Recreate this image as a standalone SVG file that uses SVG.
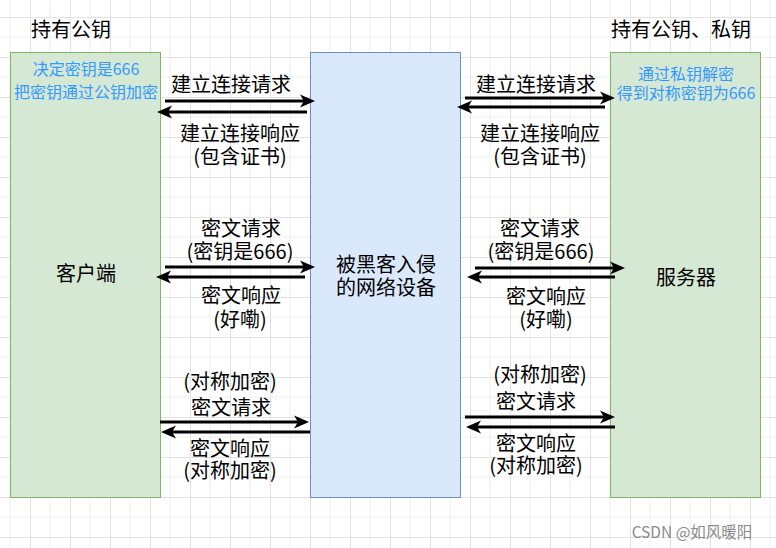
<svg xmlns="http://www.w3.org/2000/svg" width="776" height="548" viewBox="0 0 776 548">
<style>
text{font-family:"Noto Sans CJK SC","Liberation Sans",sans-serif;dominant-baseline:central;text-anchor:middle;fill:#000}
.t{font-size:20px}
.h{font-size:20px}
.b{font-size:16px;fill:#3399ff}
.box{stroke-width:1}
.g{fill:#d5e8d4;stroke:#82b366}
.bl{fill:#dae8fc;stroke:#6c8ebf}
.a{stroke:#000;stroke-width:3;fill:none;marker-end:url(#ah)}
</style>
<defs>
<pattern id="grid" x="30" y="17" width="40" height="40" patternUnits="userSpaceOnUse">
<path d="M20,0V40M0,20H40" stroke="#efefef" stroke-width="1" fill="none"/>
<path d="M0.5,0V40M0,0.5H40" stroke="#e2e2e2" stroke-width="1" fill="none"/>
</pattern>
<marker id="ah" viewBox="0 0 15 14" refX="7" refY="7" markerWidth="15" markerHeight="14" markerUnits="userSpaceOnUse" orient="auto">
<path d="M0,0.5 L15,7 L0,13.5 L4,7 Z" fill="#000"/>
</marker>
</defs>
<rect width="776" height="548" fill="#fff"/>
<rect width="776" height="548" fill="url(#grid)"/>

<g id="client">
<rect class="box g" x="10.5" y="52.5" width="150" height="445"/>
<text class="b" x="86" y="68">决定密钥是666</text>
<text class="b" x="86" y="91">把密钥通过公钥加密</text>
<text class="t" x="86" y="272">客户端</text>
</g>
<g id="hacked-device">
<rect class="box bl" x="310.5" y="52.5" width="150" height="445"/>
<text class="t" x="386" y="263">被黑客入侵</text>
<text class="t" x="386" y="286">的网络设备</text>
</g>
<g id="server">
<rect class="box g" x="610.5" y="52.5" width="150" height="445"/>
<text class="b" x="686" y="73">通过私钥解密</text>
<text class="b" x="686" y="92">得到对称密钥为666</text>
<text class="t" x="686" y="276">服务器</text>
</g>
<g id="titles">
<text class="h" x="71" y="28">持有公钥</text>
<text class="h" x="681" y="28">持有公钥、私钥</text>
</g>

<g id="connectors">
<line class="a" x1="165" y1="101" x2="307" y2="101"/>
<line class="a" x1="307" y1="112" x2="165" y2="112"/>
<line class="a" x1="465" y1="98" x2="607" y2="98"/>
<line class="a" x1="605" y1="107" x2="465" y2="107"/>
<line class="a" x1="165" y1="267" x2="307" y2="267"/>
<line class="a" x1="305" y1="277" x2="164" y2="277"/>
<line class="a" x1="475" y1="268" x2="617" y2="268"/>
<line class="a" x1="615" y1="277" x2="475" y2="277"/>
<line class="a" x1="160" y1="422" x2="301" y2="422"/>
<line class="a" x1="310" y1="432" x2="169" y2="432"/>
<line class="a" x1="465" y1="417" x2="607" y2="417"/>
<line class="a" x1="615" y1="427" x2="474" y2="427"/>
</g>

<g id="labels">
<text class="t" x="231" y="83">建立连接请求</text>
<text class="t" x="240" y="132">建立连接响应</text>
<text class="t" x="240" y="155">(包含证书)</text>
<text class="t" x="536" y="83">建立连接请求</text>
<text class="t" x="540" y="132">建立连接响应</text>
<text class="t" x="540" y="155">(包含证书)</text>

<text class="t" x="241" y="227">密文请求</text>
<text class="t" x="240" y="250">(密钥是666)</text>
<text class="t" x="241" y="294">密文响应</text>
<text class="t" x="240" y="318">(好嘞)</text>
<text class="t" x="540" y="227">密文请求</text>
<text class="t" x="541" y="250">(密钥是666)</text>
<text class="t" x="546" y="295">密文响应</text>
<text class="t" x="546" y="318">(好嘞)</text>

<text class="t" x="230" y="380">(对称加密)</text>
<text class="t" x="231" y="406">密文请求</text>
<text class="t" x="230" y="447">密文响应</text>
<text class="t" x="230" y="469">(对称加密)</text>
<text class="t" x="540" y="373">(对称加密)</text>
<text class="t" x="536" y="400">密文请求</text>
<text class="t" x="536" y="442">密文响应</text>
<text class="t" x="536" y="464">(对称加密)</text>
</g>
<text x="692" y="531" style="font-size:15.5px;fill:#8a8a8a">CSDN @如风暖阳</text>
</svg>
